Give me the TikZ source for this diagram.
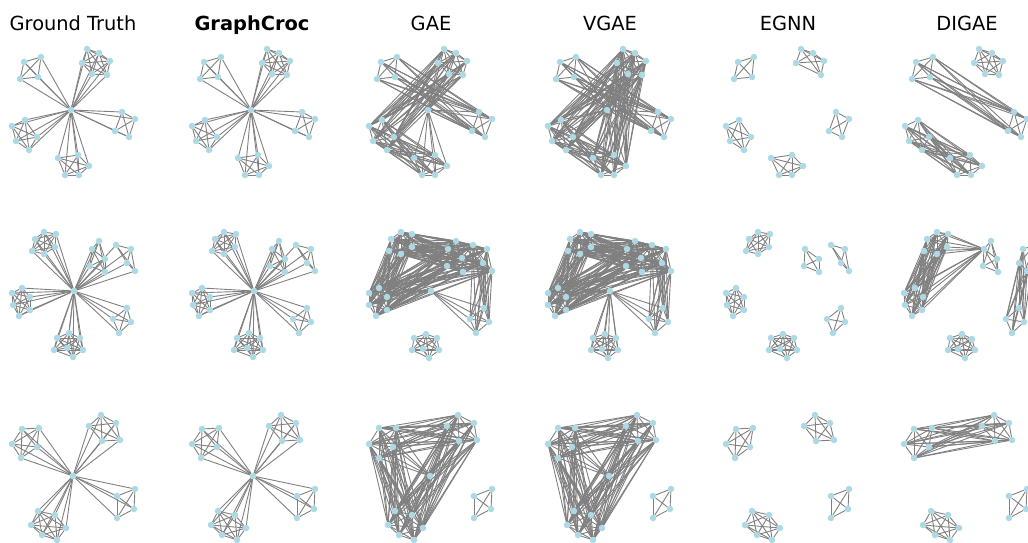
\documentclass[tikz,border=0pt]{standalone}
\usepackage{fontspec}
\setmainfont{DejaVu Sans}
\pgfdeclarelayer{bg}
\pgfsetlayers{bg,main}
\definecolor{nodeblue}{HTML}{ADD8E6}
\definecolor{edgegray}{HTML}{808080}

% one clique: name, list of x/y
\newcommand{\clq}[2]{%
  \foreach \x/\y [count=\i] in {#2}{
    \node[vtx] (#1\i) at (\x,\y) {};
    \xdef\clqcnt{\i}
  }
  \expandafter\xdef\csname cnt#1\endcsname{\clqcnt}
  \begin{pgfonlayer}{bg}
  \foreach \i in {2,...,\clqcnt}{
    \pgfmathtruncatemacro{\im}{\i-1}
    \foreach \j in {1,...,\im} \draw[link] (#1\i) -- (#1\j);
  }
  \end{pgfonlayer}
}
\newcommand{\hubto}[2]{%
  \edef\hubn{\csname cnt#2\endcsname}
  \begin{pgfonlayer}{bg}
  \foreach \i in {1,...,\hubn} \draw[link] (#1) -- (#2\i);
  \end{pgfonlayer}
}
\newcommand{\bip}[2]{%
  \edef\bipa{\csname cnt#1\endcsname}
  \edef\bipb{\csname cnt#2\endcsname}
  \begin{pgfonlayer}{bg}
  \foreach \i in {1,...,\bipa}
    \foreach \j in {1,...,\bipb} \draw[link] (#1\i) -- (#2\j);
  \end{pgfonlayer}
}

% ground truth rows
\newcommand{\gtone}[1]{%
  \node[vtx] (#1h) at (71,110) {};
  \clq{#1A}{24/62, 41/57, 20/79, 38/77}
  \clq{#1B}{87/49, 99/53, 110/61, 82/63, 92/74, 107/75}
  \clq{#1C}{122/112, 135/119, 115/131, 129/137}
  \clq{#1D}{25/120, 12/126, 37/137, 16/141, 29/150}
  \clq{#1E}{58/158, 78/155, 89/166, 65/175, 79/175}
  \foreach \c in {A,B,C,D,E} {\hubto{#1h}{#1\c}}
}
\newcommand{\gttwo}[1]{%
  \node[vtx] (#1h) at (74,291) {};
  \clq{#1A}{44/232, 56/234, 35/239, 55/247, 32/251, 44/254}
  \clq{#1B}{99/241, 92/249, 105/259, 90/266, 105/272}
  \clq{#1F}{116/245, 131/249, 127/263, 135/271}
  \clq{#1C}{22/288, 12/293, 30/297, 13/305, 30/310, 19/316}
  \clq{#1D}{127/308, 113/319, 131/322, 119/333}
  \clq{#1E}{69/333, 57/338, 80/338, 67/348, 54/350, 83/350, 73/357}
  \foreach \c in {A,B,F,C,D,E} {\hubto{#1h}{#1\c}}
}
\newcommand{\gtthree}[1]{%
  \node[vtx] (#1h) at (73,476) {};
  \clq{#1A}{22/429, 39/428, 12/444, 37/447, 21/458}
  \clq{#1B}{101/415, 89/426, 116/423, 102/441, 120/440}
  \clq{#1C}{135/489, 117/496, 134/509, 117/518}
  \clq{#1D}{38/511, 55/515, 31/525, 66/528, 42/535, 57/540}
  \foreach \c in {A,B,C,D} {\hubto{#1h}{#1\c}}
}

% gae rows
\newcommand{\gaone}[1]{%
  \node[vtx] (#1h) at (428,110) {};
  \clq{#1A}{381/62, 397/57, 377/79, 395/77}
  \clq{#1B}{444/49, 456/53, 467/61, 438/63, 449/74, 463/75}
  \clq{#1C}{479/112, 492/119, 472/131, 485/137}
  \clq{#1D}{382/120, 369/126, 394/137, 373/141, 387/150}
  \clq{#1E}{414/158, 435/155, 447/166, 422/175, 435/175}
  \bip{#1A}{#1C}
  \bip{#1B}{#1D}
  \bip{#1D}{#1E}
  \hubto{#1h}{#1C}
  \hubto{#1h}{#1E}
  \hubto{#1h}{#1B}
}
\newcommand{\gatwo}[1]{%
  \node[vtx] (#1h) at (431,291) {};
  \clq{#1A}{401/232, 412/234, 391/239, 412/247, 389/251, 401/254}
  \clq{#1B}{456/241, 448/249, 462/258, 447/266, 463/272}
  \clq{#1F}{473/245, 487/249, 483/263, 492/271}
  \clq{#1C}{379/288, 369/293, 387/297, 369/305, 387/310, 376/316}
  \clq{#1D}{484/308, 470/319, 489/322, 476/333}
  \clq{#1E}{426/334, 414/338, 437/338, 423/349, 412/350, 439/350, 429/358}
  \bip{#1A}{#1B}
  \bip{#1A}{#1F}
  \bip{#1A}{#1C}
  \bip{#1B}{#1C}
  \bip{#1F}{#1C}
  \bip{#1B}{#1F}
  \bip{#1F}{#1D}
  \hubto{#1h}{#1D}
  \hubto{#1h}{#1C}
}
\newcommand{\gathree}[1]{%
  \node[vtx] (#1h) at (430,476) {};
  \clq{#1A}{379/428, 396/428, 369/444, 393/447, 379/458}
  \clq{#1B}{458/415, 447/426, 474/423, 459/441, 477/440}
  \clq{#1D}{395/511, 412/515, 388/525, 423/528, 399/535, 414/540}
  \clq{#1C}{492/489, 474/496, 491/509, 474/518}
  \bip{#1A}{#1B}
  \bip{#1A}{#1D}
  \bip{#1B}{#1D}
  \foreach \c in {A,B,D} {\hubto{#1h}{#1\c}}
}

\begin{document}
\begin{tikzpicture}[x=1pt,y=-1pt]
  \tikzstyle{every node}=[inner sep=0pt, outer sep=0pt]
  \tikzstyle{vtx}=[circle, fill=nodeblue, minimum size=6.5pt]
  \tikzstyle{link}=[edgegray, line width=0.9pt]
  \tikzstyle{ttl}=[anchor=base, font=\fontsize{19.4}{23}\selectfont]
  \useasboundingbox (0,0) rectangle (1028,542);

  \node[ttl] (tgt) at (73,30)  {Ground Truth};
  \node[ttl] (tgc) at (252,30) {\bfseries GraphCroc};
  \node[ttl] (tga) at (431,30) {GAE};
  \node[ttl] (tvg) at (610,30) {VGAE};
  \node[ttl] (teg) at (788,30) {EGNN};
  \node[ttl] (tdi) at (967,30) {DIGAE};

  % ground truth and graphcroc
  \gtone{r1gt}
  \gttwo{r2gt}
  \gtthree{r3gt}
  \begin{scope}[xshift=180pt]
    \gtone{r1gc}
    \gttwo{r2gc}
    \gtthree{r3gc}
  \end{scope}

  % gae and vgae
  \gaone{r1ga}
  \gatwo{r2ga}
  \gathree{r3ga}
  \begin{scope}[xshift=179pt]
    \gaone{r1vg}
    \gatwo{r2vg}
    \gathree{r3vg}
  \end{scope}
  \bip{r1vgB}{r1vgE}
  \hubto{r1vgh}{r1vgA}
  \hubto{r1vgh}{r1vgD}
  \hubto{r2vgh}{r2vgE}

  % egnn
  \clq{r1egA}{738/62, 754/57, 734/79, 752/77}
  \clq{r1egB}{801/49, 813/53, 824/61, 796/63, 821/75}
  \clq{r1egC}{836/112, 849/119, 829/131, 842/137}
  \clq{r1egD}{739/120, 726/126, 751/137, 730/141, 744/150}
  \clq{r1egE}{771/158, 792/155, 803/166, 779/175, 792/175}

  \clq{r2egA}{758/232, 770/234, 749/239, 769/247, 746/251, 758/254}
  \clq{r2egB}{805/249, 819/259, 804/266, 819/272}
  \clq{r2egF}{831/245, 845/249, 841/263, 849/271}
  \clq{r2egC}{736/288, 726/293, 744/297, 727/305, 744/310, 733/316}
  \clq{r2egD}{841/308, 827/319, 845/322, 833/333}
  \clq{r2egE}{783/334, 771/338, 794/338, 780/349, 769/350, 797/350, 787/358}

  \clq{r3egA}{736/429, 753/428, 726/444, 750/447, 735/458}
  \clq{r3egB}{815/415, 804/426, 830/423, 816/441, 834/440}
  \clq{r3egC}{849/489, 831/496, 848/509, 831/518}
  \clq{r3egD}{752/511, 769/515, 745/525, 780/528, 757/535, 772/540}

  % digae
  \clq{r1diA}{916/62, 933/57, 912/79, 930/77}
  \clq{r1diB}{979/49, 992/53, 1003/61, 974/63, 985/74, 999/75}
  \clq{r1diC}{1014/112, 1027/119, 1008/131, 1021/137}
  \clq{r1diD}{918/120, 905/126, 929/137, 909/141, 922/150}
  \clq{r1diE}{950/158, 970/155, 982/166, 957/175, 971/175}
  \bip{r1diA}{r1diC}
  \bip{r1diD}{r1diE}

  \clq{r2diA}{937/232, 948/234, 927/239, 947/247, 924/251, 937/254}
  \clq{r2diB}{991/241, 984/249, 997/259, 983/266, 998/272}
  \clq{r2diF}{1035/245, 1023/249, 1019/263, 1027/271}
  \clq{r2diC}{915/288, 904/293, 923/297, 905/305, 922/310, 912/316}
  \clq{r2diD}{1019/308, 1006/319, 1024/322, 1012/333}
  \clq{r2diE}{962/334, 950/338, 972/339, 958/349, 948/350, 975/350, 965/358}
  \bip{r2diA}{r2diC}
  \hubto{r2diB2}{r2diA}
  \hubto{r2diB2}{r2diC}
  \bip{r2diF}{r2diD}

  \clq{r3diA}{914/429, 932/428, 904/444, 929/447, 914/458}
  \clq{r3diB}{994/415, 982/426, 1009/423, 995/441, 1012/440}
  \clq{r3diC}{1027/489, 1009/496, 1026/509, 1009/518}
  \clq{r3diD}{931/511, 948/515, 923/525, 959/528, 935/535, 950/540}
  \bip{r3diA}{r3diB}
\end{tikzpicture}
\end{document}
